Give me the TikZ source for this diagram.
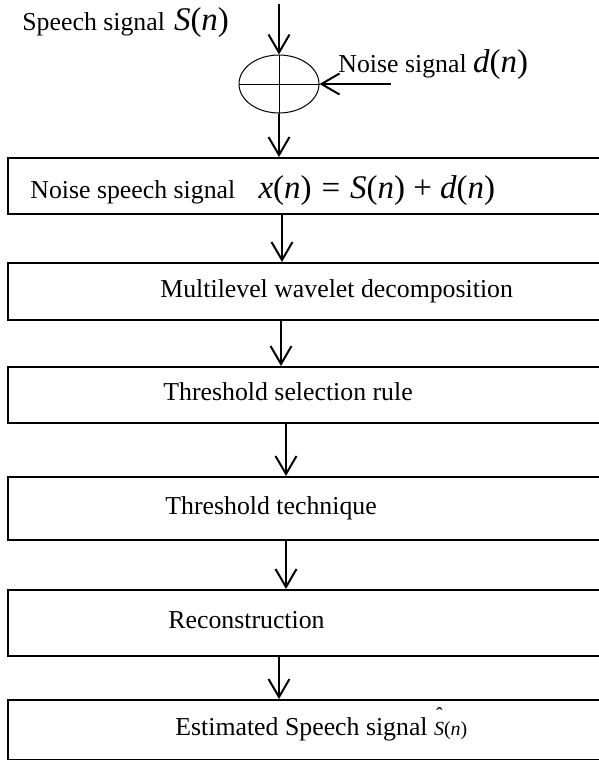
\documentclass[tikz,border=0pt]{standalone}
\usepackage{fontspec}
\setmainfont{Liberation Serif}
\usetikzlibrary{arrows.meta,shapes.geometric}
\newcommand\mv[1]{\textit{#1}}
\newcommand\bigmath{\fontsize{16.5}{18}\selectfont}
\begin{document}
\begin{tikzpicture}[x=0.5pt,y=-0.5pt,
  boxnode/.style={draw,line width=1pt,rectangle,anchor=north west,minimum width=299pt,inner sep=0pt},
  lbl/.style={anchor=base west,inner sep=0pt,font=\fontsize{12.9}{15}\selectfont},
  arr/.style={line width=1pt,-{Straight Barb[length=9pt,width=10.5pt,line width=1pt]}},
  thin/.style={line width=0.5pt}]
\useasboundingbox (0,0) rectangle (599,760);
\clip (0,0) rectangle (599,760);
% boxes
\node[boxnode,minimum height=28pt] (b1) at (7,157) {};
\node[boxnode,minimum height=28.5pt] (b2) at (7,262) {};
\node[boxnode,minimum height=28pt] (b3) at (7,366) {};
\node[boxnode,minimum height=31.5pt] (b4) at (7,476) {};
\node[boxnode,minimum height=33pt] (b5) at (7,589) {};
\node[boxnode,minimum height=30pt] (b6) at (7,699) {};
% texts
\node[lbl] (t0) at (22,30) {Speech signal\hspace{0.35em}{\bigmath\mv{S}(\mv{n})}};
\node[lbl] (tn) at (338,72) {Noise signal {\bigmath\mv{d}(\mv{n})}};
\node[lbl] (t1) at (30,198) {Noise speech signal\hspace{0.9em}{\bigmath\mv{x}(\mv{n})\hspace{0.3em}=\hspace{0.3em}\mv{S}(\mv{n})\hspace{0.25em}+\hspace{0.25em}\mv{d}(\mv{n})}};
\node[lbl] (t2) at (160,297) {Multilevel wavelet decomposition};
\node[lbl] (t3) at (163,400) {Threshold selection rule};
\node[lbl] (t4) at (165,514) {Threshold technique};
\node[lbl] (t5) at (168,628) {Reconstruction};
\node[lbl] (t6) at (175,735) {Estimated Speech signal \fontsize{10}{12}\selectfont\rlap{\raisebox{1.45ex}{\hspace{0.1em}\char"02C6}}\mv{S}(\mv{n})};
% summing ellipse
\node[ellipse,draw,thin,minimum width=40pt,minimum height=29pt,inner sep=0pt] (e) at (279,84) {};
\draw[thin] (e.north) -- (e.south);
\draw[thin] (e.west) -- (e.east);
% free ends
\coordinate (s0) at (279,4);
\coordinate (n0) at (391,84);
\coordinate (c1) at (282,0);
\coordinate (c2) at (281,0);
\coordinate (c3) at (286,0);
\coordinate (c4) at (286,0);
\coordinate (c5) at (279,0);
% connectors
\draw[arr] (s0) -- (e.north);
\draw[arr] (n0) -- (e.east);
\draw[arr] (e.south) -- (e.south |- b1.north);
\draw[arr] (c1 |- b1.south) -- (c1 |- b2.north);
\draw[arr] (c2 |- b2.south) -- (c2 |- b3.north);
\draw[arr] (c3 |- b3.south) -- (c3 |- b4.north);
\draw[arr] (c4 |- b4.south) -- (c4 |- b5.north);
\draw[arr] (c5 |- b5.south) -- (c5 |- b6.north);
\end{tikzpicture}
\end{document}
